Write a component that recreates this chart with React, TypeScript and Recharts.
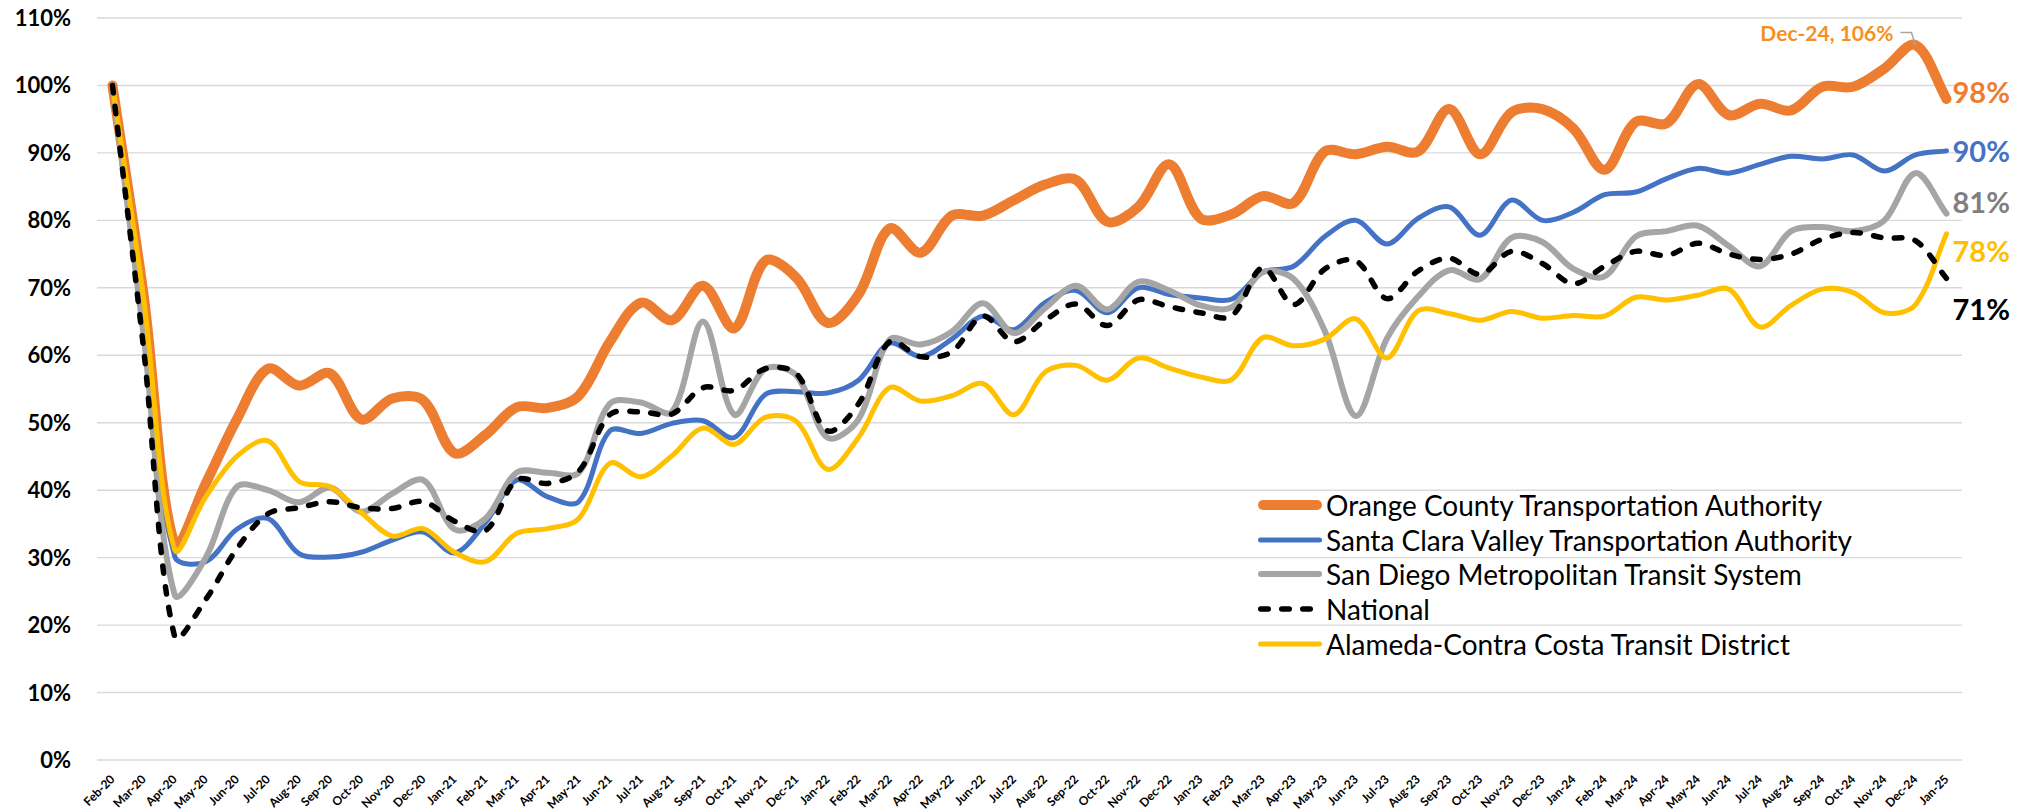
import React from 'react';
import { LineChart, Line, XAxis, YAxis, CartesianGrid, Legend, LabelList } from 'recharts';

const months = [
  'Feb-20', 'Mar-20', 'Apr-20', 'May-20', 'Jun-20', 'Jul-20', 'Aug-20', 'Sep-20', 'Oct-20', 'Nov-20', 'Dec-20',
  'Jan-21', 'Feb-21', 'Mar-21', 'Apr-21', 'May-21', 'Jun-21', 'Jul-21', 'Aug-21', 'Sep-21', 'Oct-21', 'Nov-21', 'Dec-21',
  'Jan-22', 'Feb-22', 'Mar-22', 'Apr-22', 'May-22', 'Jun-22', 'Jul-22', 'Aug-22', 'Sep-22', 'Oct-22', 'Nov-22', 'Dec-22',
  'Jan-23', 'Feb-23', 'Mar-23', 'Apr-23', 'May-23', 'Jun-23', 'Jul-23', 'Aug-23', 'Sep-23', 'Oct-23', 'Nov-23', 'Dec-23',
  'Jan-24', 'Feb-24', 'Mar-24', 'Apr-24', 'May-24', 'Jun-24', 'Jul-24', 'Aug-24', 'Sep-24', 'Oct-24', 'Nov-24', 'Dec-24',
  'Jan-25',
];

const octa = [
  100, 69, 32, 41, 50.5, 58, 55.5, 57.3, 50.5, 53.6, 53.3,
  45.5, 48.2, 52.3, 52.2, 54, 62, 67.8, 65.2, 70.3, 64, 74, 71.5,
  64.8, 69, 78.8, 75.2, 80.7, 80.7, 83, 85.3, 86, 79.8, 82, 88.3,
  80.3, 80.9, 83.6, 82.6, 90.2, 89.8, 90.9, 90.2, 96.5, 89.8, 96, 96.5,
  93.6, 87.5, 94.6, 94.4, 100.2, 95.6, 97.3, 96.3, 99.8, 99.8, 102.5, 106,
  98,
];

const vta = [
  100, 65, 30.2, 29.4, 34.2, 35.8, 30.6, 30.1, 30.8, 32.6, 33.8,
  30.7, 35.2, 41.5, 39, 38.3, 48.8, 48.4, 49.9, 50.3, 47.8, 54.2, 54.6,
  54.4, 56.3, 61.8, 59.8, 62.4, 65.8, 63.8, 67.8, 69.6, 66.3, 70, 69,
  68.5, 68.3, 72.3, 73.2, 77.6, 80, 76.5, 80.3, 82, 77.8, 83, 80,
  81.2, 83.8, 84.2, 86.2, 87.7, 87, 88.3, 89.5, 89.1, 89.7, 87.3, 89.7,
  90.3,
];

const mts = [
  100, 63, 24.5, 30, 40.5, 40, 38.2, 40.4, 36.8, 39.5, 41.5,
  34.2, 35.8, 42.6, 42.6, 42.6, 52.8, 53, 51.6, 65, 51.2, 58, 57,
  47.8, 50.5, 62.3, 61.6, 63.5, 67.7, 63.3, 67, 70.3, 66.8, 70.9, 69.6,
  67.4, 67.1, 72.3, 71.3, 63.6, 51, 62.5, 68.7, 72.6, 71.3, 77.4, 76.8,
  72.8, 71.7, 77.6, 78.4, 79.2, 76.2, 73.2, 78.4, 79, 78.4, 80, 87,
  81,
];

const national = [
  100, 61, 18.3, 23.8, 31.3, 36.5, 37.4, 38.3, 37.4, 37.3, 38.3,
  35.4, 34, 41.5, 41, 42.8, 51.2, 51.6, 51.3, 55.2, 54.8, 58, 57.3,
  48.8, 52.8, 62, 59.8, 60.5, 65.8, 62, 65.2, 67.6, 64.4, 68.2, 67.2,
  66.3, 65.8, 73, 67.5, 72.8, 74, 68.4, 72.5, 74.4, 72, 75.4, 73.6,
  70.6, 73.2, 75.4, 74.8, 76.6, 75, 74.2, 75, 77.2, 78.2, 77.4, 77,
  71.4,
];

const actransit = [
  100, 68.5, 31.2, 39, 45, 47.3, 41.3, 40.5, 36.7, 33.2, 34.3,
  30.8, 29.4, 33.6, 34.3, 35.8, 44, 42, 45.1, 49.2, 46.8, 50.8, 50.2,
  43.1, 47.8, 55.2, 53.2, 54, 55.8, 51.2, 57.5, 58.5, 56.3, 59.6, 58.1,
  56.8, 56.4, 62.6, 61.4, 62.4, 65.4, 59.6, 66.6, 66.2, 65.2, 66.5, 65.5,
  65.9, 65.8, 68.6, 68.2, 68.9, 69.8, 64.2, 67.4, 69.8, 69.3, 66.3, 67.5,
  78,
];

const yTicks = [0, 10, 20, 30, 40, 50, 60, 70, 80, 90, 100, 110];

const seriesNames = [
  'Orange County Transportation Authority',
  'Santa Clara Valley Transportation Authority',
  'San Diego Metropolitan Transit System',
  'National',
  'Alameda-Contra Costa Transit District',
];

const data = months.map((m, i) => ({
  month: m,
  octa: octa[i],
  vta: vta[i],
  mts: mts[i],
  national: national[i],
  actransit: actransit[i],
}));

const FONT = "Lato, 'DejaVu Sans', sans-serif";
const ORANGE = '#ED7D31';
const BLUE = '#4472C4';
const GRAY = '#A5A5A5';
const YELLOW = '#FFC000';
const BLACK = '#000000';
const DASH = '7.5 13.5';

// Excel-like smoothed line: Catmull-Rom tangents with control arms scaled by segment length
const excelSmooth: any = (context: any) => {
  let pts: number[][] = [];
  const dist = (a: number[], b: number[]) => Math.hypot(b[0] - a[0], b[1] - a[1]);
  return {
    areaStart() {},
    areaEnd() {},
    lineStart() {
      pts = [];
    },
    point(x: number, y: number) {
      pts.push([+x, +y]);
    },
    lineEnd() {
      const n = pts.length;
      if (!n) return;
      context.moveTo(pts[0][0], pts[0][1]);
      for (let i = 0; i < n - 1; i++) {
        const p0 = pts[i > 0 ? i - 1 : i];
        const p1 = pts[i];
        const p2 = pts[i + 1];
        const p3 = pts[i + 2 < n ? i + 2 : i + 1];
        const l01 = dist(p0, p1);
        const l12 = dist(p1, p2);
        const l23 = dist(p2, p3);
        const r1 = l01 + l12 > 0 ? l12 / (l01 + l12) : 0.5;
        const r2 = l12 + l23 > 0 ? l12 / (l12 + l23) : 0.5;
        context.bezierCurveTo(
          p1[0] + ((p2[0] - p0[0]) * r1) / 3,
          p1[1] + ((p2[1] - p0[1]) * r1) / 3,
          p2[0] - ((p3[0] - p1[0]) * r2) / 3,
          p2[1] - ((p3[1] - p1[1]) * r2) / 3,
          p2[0],
          p2[1]
        );
      }
    },
  };
};

const XTick = (props: any) => {
  const { x, y, payload } = props;
  const tx = x + 3;
  const ty = y + 20;
  return (
    <text
      x={tx}
      y={ty}
      transform={`rotate(-45, ${tx}, ${ty})`}
      textAnchor="end"
      fontSize={12}
      fontWeight={700}
      fontFamily={FONT}
      fill="#000"
    >
      {payload.value}
    </text>
  );
};

const YTick = (props: any) => {
  const { x, y, payload } = props;
  return (
    <text x={x} y={y} dy={8} textAnchor="end" fontSize={22} fontWeight={700} fontFamily={FONT} fill="#000">
      {payload.value}%
    </text>
  );
};

const lastIndex = months.length - 1;

const endLabel = (color: string, dy: number) => (props: any) => {
  const { x, y, value, index } = props;
  if (index !== lastIndex) return null;
  return (
    <text
      x={x + 6}
      y={y + dy}
      dominantBaseline="central"
      fill={color}
      fontSize={29}
      fontWeight={700}
      fontFamily={FONT}
    >
      {Math.round(value)}%
    </text>
  );
};

const peakIndex = months.indexOf('Dec-24');

const peakLabel = (props: any) => {
  const { x, y, value, index } = props;
  if (index !== peakIndex) return null;
  return (
    <g>
      <polyline
        points={`${x - 15},${y - 12.5} ${x - 4},${y - 12.5} ${x},${y}`}
        fill="none"
        stroke="#A6A6A6"
        strokeWidth={1.5}
      />
      <text
        x={x - 22}
        y={y - 12}
        dominantBaseline="central"
        textAnchor="end"
        fill="#F78F1E"
        fontSize={21}
        fontWeight={700}
        fontFamily={FONT}
      >
        {`${months[index]}, ${Math.round(value)}%`}
      </text>
    </g>
  );
};

const legendItems = [
  { name: seriesNames[0], color: ORANGE, width: 10, dash: undefined as string | undefined },
  { name: seriesNames[1], color: BLUE, width: 5, dash: undefined },
  { name: seriesNames[2], color: GRAY, width: 6, dash: undefined },
  { name: seriesNames[3], color: BLACK, width: 5.5, dash: DASH },
  { name: seriesNames[4], color: YELLOW, width: 5, dash: undefined },
];

const LegendBox = () => (
  <div style={{ fontFamily: FONT }}>
    {legendItems.map((it) => (
      <div key={it.name} style={{ display: 'flex', alignItems: 'center', height: 34.6 }}>
        <svg width={70} height={20} style={{ display: 'block' }}>
          <line
            x1={it.width / 2 + 2}
            y1={10}
            x2={66 - it.width / 2}
            y2={10}
            stroke={it.color}
            strokeWidth={it.width}
            strokeLinecap="round"
            strokeDasharray={it.dash}
          />
        </svg>
        <span style={{ fontSize: 28, color: '#000', whiteSpace: 'nowrap', lineHeight: '34px' }}>{it.name}</span>
      </div>
    ))}
  </div>
);

export default function App() {
  return (
    <div style={{ position: 'absolute', left: 0, top: 0, width: 2036, height: 812, background: '#fff' }}>
      <LineChart width={2036} height={812} data={data} margin={{ top: 18, right: 74, bottom: 0, left: 0 }}>
        <CartesianGrid vertical={false} stroke="#D9D9D9" strokeWidth={1.4} />
        <XAxis
          dataKey="month"
          interval={0}
          tick={<XTick />}
          tickLine={false}
          axisLine={false}
          tickSize={0}
          tickMargin={0}
          height={52}
          padding={{ left: 15.5, right: 15.5 }}
        />
        <YAxis
          domain={[0, 110]}
          ticks={yTicks}
          tick={<YTick />}
          tickLine={false}
          axisLine={false}
          tickSize={0}
          tickMargin={26}
          width={97}
          allowDataOverflow
        />
        <Legend
          layout="vertical"
          align="center"
          verticalAlign="middle"
          content={() => <LegendBox />}
          wrapperStyle={{ left: 1256, top: 488, width: 760, height: 175 }}
        />
        <Line
          dataKey="octa"
          name={seriesNames[0]}
          type={excelSmooth}
          stroke={ORANGE}
          strokeWidth={10}
          strokeLinecap="round"
          strokeLinejoin="round"
          dot={false}
          activeDot={false}
          isAnimationActive={false}
        >
          <LabelList dataKey="octa" content={endLabel(ORANGE, -7)} />
          <LabelList dataKey="octa" content={peakLabel} />
        </Line>
        <Line
          dataKey="vta"
          name={seriesNames[1]}
          type={excelSmooth}
          stroke={BLUE}
          strokeWidth={5}
          strokeLinecap="round"
          dot={false}
          activeDot={false}
          isAnimationActive={false}
        >
          <LabelList dataKey="vta" content={endLabel(BLUE, 0)} />
        </Line>
        <Line
          dataKey="mts"
          name={seriesNames[2]}
          type={excelSmooth}
          stroke={GRAY}
          strokeWidth={6}
          strokeLinecap="round"
          dot={false}
          activeDot={false}
          isAnimationActive={false}
        >
          <LabelList dataKey="mts" content={endLabel('#7F7F7F', -12)} />
        </Line>
        <Line
          dataKey="actransit"
          name={seriesNames[4]}
          type={excelSmooth}
          stroke={YELLOW}
          strokeWidth={5}
          strokeLinecap="round"
          dot={false}
          activeDot={false}
          isAnimationActive={false}
        >
          <LabelList dataKey="actransit" content={endLabel(YELLOW, 17)} />
        </Line>
        <Line
          dataKey="national"
          name={seriesNames[3]}
          type={excelSmooth}
          stroke={BLACK}
          strokeWidth={5.5}
          strokeDasharray={DASH}
          strokeLinecap="round"
          dot={false}
          activeDot={false}
          isAnimationActive={false}
        >
          <LabelList dataKey="national" content={endLabel(BLACK, 30)} />
        </Line>
      </LineChart>
    </div>
  );
}
